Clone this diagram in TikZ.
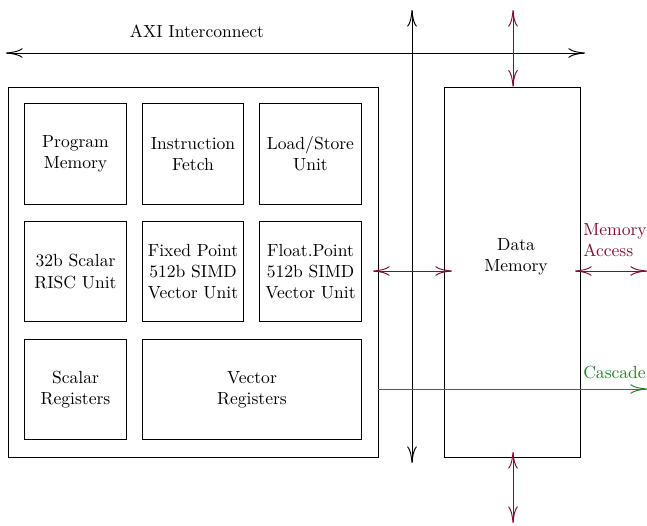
\documentclass[tikz,border=0pt]{standalone}
\usepackage{tikz}
\usetikzlibrary{arrows.meta, positioning}
\definecolor{memcolor}{RGB}{128,16,48}
\definecolor{cascolor}{RGB}{30,130,40}

\begin{document}
\begin{tikzpicture}[
            x=0.57pt, y=-0.57pt,
            >={To[length=9.5pt,width=5.5pt]},
            line width=0.55pt,
                base/.style = {rectangle, draw=black, inner sep=0pt,
                            minimum width=57.6pt, minimum height=57.3pt,
                            align=center},
                unit/.style = {base},
                wideunit/.style = {base, minimum width=124.3pt},
                bigbox/.style = {rectangle, draw=black, minimum height=210.9pt},
                memarrow/.style = {<->, color=memcolor},
                casarrow/.style = {->, color=cascolor},
            align=center]
            \useasboundingbox (0,0) rectangle (647,525);
            % core
            \node (core) [bigbox, minimum width=210.9pt] at (193,272) {};
            \node (ProgMem) [unit] at (75.5,154) {Program\\Memory};
            \node (InstFetch) [unit] at (193,154) {Instruction\\Fetch};
            \node (LoadStore) [unit] at (310.5,154) {Load/Store\\Unit};
            \node (ScalarUnit) [unit] at (75.5,271.5) {32b Scalar\\RISC Unit};
            \node (FixedUnit) [unit] at (193,271.5) {Fixed Point\\512b SIMD\\Vector Unit};
            \node (FloatUnit) [unit] at (310.5,271.5) {Float.Point\\512b SIMD\\Vector Unit};
            \node (ScalarRegs) [unit] at (75.5,389.5) {Scalar\\Registers};
            \node (VectorRegs) [wideunit] at (252,389.5) {Vector\\Registers};
            % data memory
            \node (DataMem) [bigbox, minimum width=77pt] at (512.5,272) {};
            \node (DataMemText) at (516,257) {Data\\Memory};
            % interconnect
            \coordinate (axiL) at (6,53);
            \coordinate (axiR) at (585,53);
            \node (AXI) at (197,31) {AXI Interconnect};
            \draw[<->] (axiL) -- (axiR);
            \coordinate (busTop) at (412,10);
            \coordinate (busBot) at (412,463);
            \draw[<->] (busTop) -- (busBot);
            % memory ports
            \coordinate (memTop) at (513,10);
            \draw[memarrow] (memTop) -- (DataMem.north -| memTop);
            \coordinate (memBot) at (513,523);
            \draw[memarrow] (513,452) coordinate (memBotIn) -- (memBot);
            \coordinate (coreOut) at (373,271);
            \coordinate (memIn) at (452,271);
            \draw[memarrow] (coreOut) -- (memIn);
            \coordinate (accIn) at (575,271);
            \coordinate (accOut) at (647,271);
            \draw[memarrow] (accIn) -- (accOut);
            \node (Access) [anchor=west, align=left, text=memcolor] at (577,240) {Memory\\Access};
            % cascade
            \coordinate (casOut) at (647,389);
            \draw[casarrow] (core.east |- casOut) -- (casOut);
            \node (Cascade) [anchor=west, text=cascolor] at (577,373) {Cascade};
        \end{tikzpicture}
\end{document}
